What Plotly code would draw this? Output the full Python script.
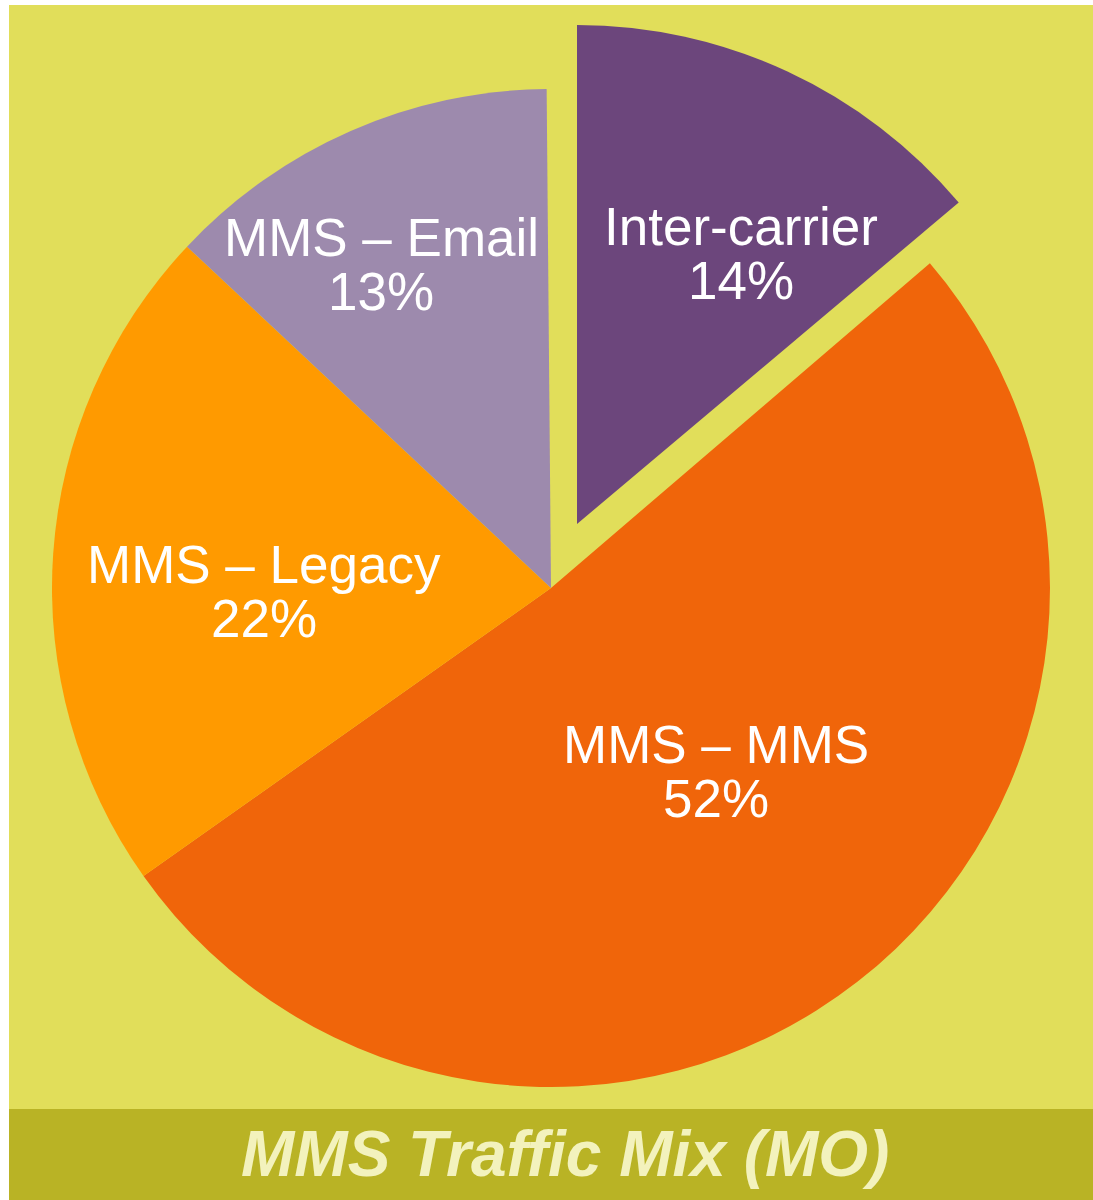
import plotly.graph_objects as go

# ---- data ----
labels = ["Inter-carrier", "MMS – MMS", "MMS – Legacy", "MMS – Email"]
values = [14, 52, 22, 13]
pct_text = ["14%", "52%", "22%", "13%"]
title_text = "MMS Traffic Mix (MO)"

# ---- style ----
W, H = 1093, 1200
colors = ["#6C467C", "#F0650A", "#FF9A00", "#9D8AAD"]
BG = "#E1DE5A"
BAR = "#B9B325"
TITLE_COL = "#F3F2BD"
FONT = "Liberation Sans, Arial, sans-serif"

# pie geometry in pixels (center x, center y, radius); pulled slice offset
cx, cy, r = 551, 588, 499
pull_dx, pull_dy = 26, -64

def dom(cx_, cy_):
    return dict(x=[(cx_ - r) / W, (cx_ + r) / W],
                y=[1 - (cy_ + r) / H, 1 - (cy_ - r) / H])

# label centre positions (pixels) per slice
label_pos = [(741, 228), (716, 746), (264, 566), (381, 239)]
line_gap = 54

fig = go.Figure()
transparent = "rgba(0,0,0,0)"

# main pie: all slices except the pulled one
fig.add_trace(go.Pie(
    labels=labels, values=values, sort=False, direction="clockwise", rotation=-0.5,
    marker=dict(colors=[transparent] + colors[1:], line=dict(width=0)),
    textinfo="none", hoverinfo="skip", showlegend=False,
    domain=dom(cx, cy),
))
# pulled-out slice
fig.add_trace(go.Pie(
    labels=[labels[0], "rest"], values=[values[0], sum(values[1:])], sort=False,
    direction="clockwise", rotation=0,
    marker=dict(colors=[colors[0], transparent], line=dict(width=0)),
    textinfo="none", hoverinfo="skip", showlegend=False,
    domain=dom(cx + pull_dx, cy + pull_dy),
))

annotations = []
for lab, pct, (lx, ly) in zip(labels, pct_text, label_pos):
    for txt, yy in ((lab, ly), (pct, ly + line_gap)):
        annotations.append(dict(
            x=lx / W, y=1 - (yy + 1) / H, xref="paper", yref="paper",
            text=txt, showarrow=False, xanchor="center", yanchor="middle",
            height=line_gap, valign="bottom",
            font=dict(family=FONT, size=53, color="white"),
        ))
annotations.append(dict(
    x=565 / W, y=1 - 1154 / H, xref="paper", yref="paper",
    text="<b><i>" + title_text + "</i></b>", showarrow=False,
    xanchor="center", yanchor="middle",
    font=dict(family=FONT, size=64, color=TITLE_COL),
))

shapes = [
    dict(type="rect", xref="paper", yref="paper", x0=9 / W, x1=1, y0=1 - 1109 / H, y1=1 - 5 / H,
         fillcolor=BG, line=dict(width=0), layer="below"),
    dict(type="rect", xref="paper", yref="paper", x0=9 / W, x1=1, y0=0, y1=1 - 1109 / H,
         fillcolor=BAR, line=dict(width=0), layer="below"),
]

fig.update_layout(
    width=W, height=H, margin=dict(l=0, r=0, t=0, b=0),
    paper_bgcolor="white", plot_bgcolor="white",
    shapes=shapes, annotations=annotations, showlegend=False,
)

fig.write_html("out.html", config={"displayModeBar": False},
               post_script="document.body.style.margin='0';document.body.style.overflow='hidden';")
